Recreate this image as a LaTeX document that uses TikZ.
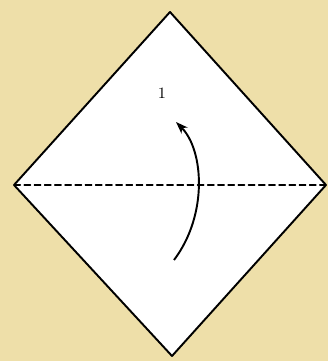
\documentclass[tikz,border=0pt]{standalone}
\usepackage{tikz}
\usepackage{tkz-euclide}
\usetikzlibrary{arrows.meta}
\definecolor{paper}{HTML}{EEDFA9}

\begin{document}
\begin{tikzpicture}[line width=1pt]
  \fill[paper] (0,0) rectangle (6.56,7.22);
  \useasboundingbox (0,0) rectangle (6.56,7.22);

  \tkzDefPoints{3.40/6.98/T,0.28/3.52/L,6.52/3.52/R,3.44/0.10/B}
  \tkzDrawPolygon[fill=white,line width=1.1pt,line join=round](T,L,B,R)
  \tkzDrawSegments[line width=0.8pt,dash pattern=on 3.6pt off 2.2pt](L,R)

  \tkzDefPoints{3.48/2.02/S,3.52/4.78/E}
  \draw[line width=1.1pt,-{Stealth[length=7pt,width=5pt]}] (S) .. controls (4.16,2.92) and (4.08,4.22) .. (E);
  \node[font=\small] (step1) at (3.24,5.36) {1};
\end{tikzpicture}
\end{document}
